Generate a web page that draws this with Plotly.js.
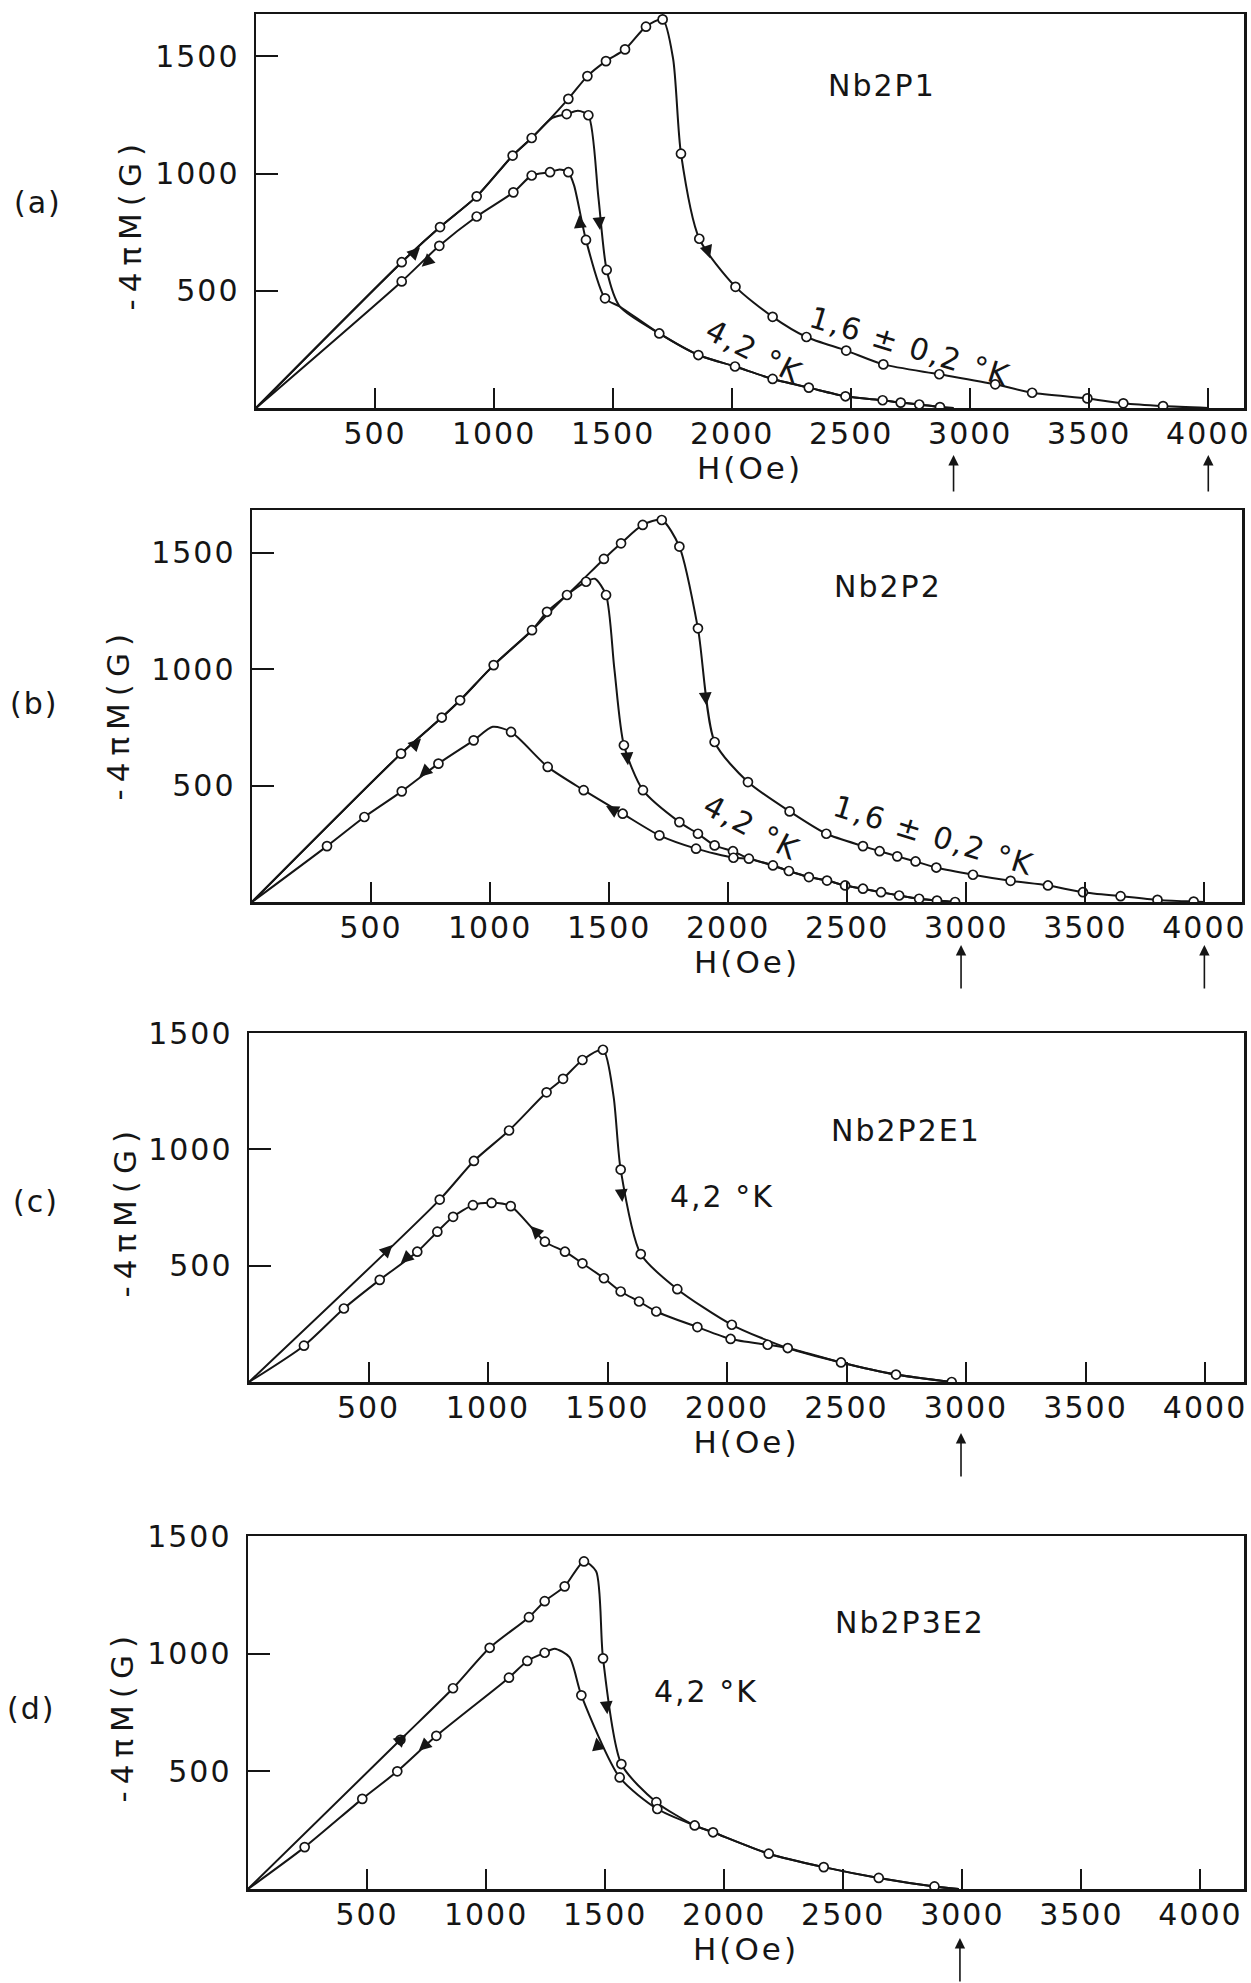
<!DOCTYPE html>
<html><head><meta charset="utf-8">
<script src="https://cdn.plot.ly/plotly-3.0.1.min.js"></script>
<style>
html,body{margin:0;padding:0;background:#fff;}
#chart{width:1251px;height:1983px;}
g[class*="tick"] text{letter-spacing:2px;}
text.annotation-text{letter-spacing:2px;}
g.annotation[data-index="0"] text.annotation-text,
g.annotation[data-index="1"] text.annotation-text,
g.annotation[data-index="2"] text.annotation-text,
g.annotation[data-index="3"] text.annotation-text{letter-spacing:7px;}
text.xtitle,text.x2title,text.x3title,text.x4title{letter-spacing:3px;}
</style></head><body><div id="chart"></div><script>
// ---------- DATA (H in Oe, -4piM in G) ----------
const xTickVals = [500, 1000, 1500, 2000, 2500, 3000, 3500, 4000];
const yTickVals = [500, 1000, 1500];
const panelLetters = ['(a)', '(b)', '(c)', '(d)'];
const sampleNames = ['Nb2P1', 'Nb2P2', 'Nb2P2E1', 'Nb2P3E2'];
const tempLow = '1,6 ± 0,2 °K';
const tempHigh = '4,2 °K';
const xTitle = 'H(Oe)';
const yTitle = '-4πM(G)';

// Panel (a) Nb2P1
const a16_H = [0, 612, 773, 927, 1078, 1158, 1312, 1392, 1470, 1550, 1638, 1708, 1752, 1785, 1862, 2014, 2170, 2312, 2479, 2635, 2870, 3105, 3260, 3492, 3643, 3810, 4000];
const a16_M = [0, 622, 772, 903, 1077, 1152, 1319, 1416, 1480, 1530, 1627, 1658, 1490, 1085, 722, 517, 389, 303, 245, 186, 144, 101, 65, 41, 20, 8, 0];
const a16_mk = [0, 1,1,1,1,1,1,1,1,1,1,1, 0, 1,1,1,1,1,1,1,1,1,1,1,1,1, 0];
const a42u_H = [0, 612, 773, 927, 1078, 1158, 1245, 1305, 1352, 1396, 1438, 1473, 1529, 1694, 1858, 2012, 2170, 2322, 2476, 2632, 2708, 2786, 2873, 2930];
const a42u_M = [0, 622, 772, 903, 1077, 1152, 1238, 1254, 1268, 1249, 901, 589, 432, 318, 226, 177, 124, 87, 50, 33, 23, 15, 4, 0];
const a42u_mk = [0, 0,0,0,0,0, 0, 1, 0, 1, 0, 1, 0, 1,1,1,1,1,1,1,1,1,1, 0];
const a42d_H = [2930, 2873, 2786, 2708, 2632, 2476, 2322, 2170, 2012, 1858, 1694, 1529, 1466, 1386, 1336, 1312, 1275, 1235, 1158, 1081, 927, 770, 612, 0];
const a42d_M = [0, 4, 15, 23, 33, 50, 87, 124, 177, 226, 318, 432, 468, 717, 950, 1006, 1018, 1006, 992, 920, 817, 692, 540, 0];
const a42d_mk = [0, 0,0,0,0,0,0,0,0,0,0, 0, 1, 1, 0, 1, 0, 1, 1, 1, 1, 1, 1, 0];
const a_dirH = [689, 696, 1445, 1358, 1907];
const a_dirM = [686, 603, 759, 823, 639];
const a_limitH = [2930, 4000];

// Panel (b) Nb2P2
const b16_H = [0, 626, 797, 874, 1015, 1176, 1239, 1323, 1478, 1550, 1641, 1721, 1795, 1873, 1943, 2083, 2258, 2412, 2566, 2636, 2710, 2787, 2874, 3028, 3186, 3343, 3490, 3648, 3803, 3955, 4000];
const b16_M = [0, 637, 792, 866, 1017, 1167, 1246, 1318, 1473, 1540, 1619, 1640, 1526, 1175, 687, 515, 389, 293, 240, 218, 196, 174, 148, 117, 91, 71, 42, 25, 9, 2, 0];
const b16_mk = [0, 1,1,1,1,1,1,1,1,1,1,1,1,1,1,1,1,1,1,1,1,1,1,1,1,1,1,1,1,1, 0];
const b42u_H = [0, 626, 797, 874, 1015, 1176, 1323, 1403, 1440, 1487, 1522, 1562, 1642, 1795, 1873, 1943, 2020, 2087, 2188, 2255, 2339, 2415, 2491, 2566, 2642, 2718, 2802, 2877, 2953];
const b42u_M = [0, 637, 792, 866, 1017, 1167, 1318, 1375, 1388, 1318, 1000, 673, 480, 343, 293, 243, 218, 186, 157, 133, 107, 92, 71, 57, 42, 28, 14, 6, 0];
const b42u_mk = [0,0,0,0,0,0,0, 1, 0, 1, 0, 1,1,1,1,1,1,1,1,1,1,1,1,1,1,1,1,1, 1];
const b42d_H = [2953, 2877, 2802, 2718, 2642, 2566, 2491, 2415, 2339, 2255, 2188, 2087, 2022, 1865, 1711, 1557, 1393, 1242, 1088, 1011, 931, 783, 629, 472, 315, 0];
const b42d_M = [0, 6, 14, 28, 42, 57, 71, 92, 107, 133, 157, 186, 190, 229, 286, 379, 480, 580, 730, 752, 694, 594, 475, 365, 240, 0];
const b42d_mk = [0,0,0,0,0,0,0,0,0,0,0,0, 1,1,1,1,1,1,1, 0, 1,1,1,1,1, 0];
const b_dirH = [710, 703, 1908, 1579, 1487];
const b_dirM = [702, 537, 845, 587, 412];
const b_limitH = [2978, 4000];

// Panel (c) Nb2P2E1
const c42u_H = [0, 798, 941, 1088, 1245, 1314, 1395, 1481, 1525, 1555, 1639, 1792, 2020, 2254, 2477, 2707, 2940];
const c42u_M = [0, 784, 950, 1081, 1245, 1303, 1384, 1428, 1230, 913, 550, 399, 246, 146, 84, 32, 0];
const c42u_mk = [0, 1,1,1,1,1,1,1, 0, 1,1,1,1,1,1,1,1];
const c42d_H = [2940, 2707, 2477, 2254, 2170, 2015, 1876, 1704, 1632, 1555, 1485, 1395, 1322, 1238, 1095, 1015, 937, 854, 788, 704, 547, 397, 230, 0];
const c42d_M = [0, 32, 84, 146, 160, 185, 236, 303, 346, 389, 446, 510, 560, 603, 756, 770, 760, 710, 646, 560, 439, 316, 156, 0];
const c42d_mk = [0,0,0,0, 1,1,1,1,1,1,1,1,1,1,1,1,1,1,1,1,1,1,1, 0];
const c_dirH = [600, 635, 1562, 1178];
const c_dirM = [589, 510, 774, 670];
const c_limitH = [2979];

// Panel (d) Nb2P3E2
const d42u_H = [0, 640, 861, 1015, 1180, 1246, 1330, 1411, 1462, 1491, 1568, 1715, 1876, 1953, 2187, 2418, 2649, 2883, 2985];
const d42u_M = [0, 634, 853, 1025, 1155, 1223, 1286, 1392, 1350, 980, 531, 369, 270, 241, 150, 93, 47, 11, 0];
const d42u_mk = [0, 1, 1,1,1,1,1,1, 0, 1,1,1,1,1,1,1,1,1, 0];
const d42d_H = [2985, 2883, 2649, 2418, 2187, 1953, 1876, 1719, 1561, 1400, 1350, 1288, 1246, 1173, 1096, 791, 627, 480, 238, 0];
const d42d_M = [0, 11, 47, 93, 150, 241, 270, 340, 474, 823, 985, 1021, 1004, 969, 898, 651, 500, 383, 178, 0];
const d42d_mk = [0,0,0,0,0,0,0, 1,1,1, 0,0, 1,1,1,1,1,1,1, 0];
const d_dirH = [665, 717, 1509, 1463];
const d_dirM = [658, 587, 743, 644];
const d_limitH = [2990];

// ---------- LAYOUT CONFIG ----------
const W = 1251, HT = 1983;
const FONT = 'DejaVu Sans, Liberation Sans, Arial, sans-serif';
const INK = '#151515';
const panels = [
  {l:256, r:1244, t:14,   b:408,  xr:[0,4150], yr:[0,1681], yt:[130,224],  lab:[38,202],  name:[882,86],   hi:[754,352,27], lo:[910,347,17], lim:[455,493]},
  {l:252, r:1242, t:510,  b:902,  xr:[0,4158], yr:[0,1683], yt:[118,714],  lab:[34,703],  name:[888,586],  hi:[752,827,28], lo:[934,835,17], lim:[945,990]},
  {l:249, r:1244, t:1033, b:1382, xr:[0,4163], yr:[0,1500], yt:[125,1211], lab:[36,1201], name:[906,1130], hi:[722,1196,0], lo:null, lim:[1433,1478]},
  {l:248, r:1244, t:1536, b:1889, xr:[0,4183], yr:[0,1500], yt:[122,1716], lab:[31,1708], name:[910,1622], hi:[706,1691,0], lo:null, lim:[1938,1983]}
];
const curves = [
  {p:0, H:a16_H, M:a16_M, mk:a16_mk}, {p:0, H:a42u_H, M:a42u_M, mk:a42u_mk}, {p:0, H:a42d_H, M:a42d_M, mk:a42d_mk},
  {p:1, H:b16_H, M:b16_M, mk:b16_mk}, {p:1, H:b42u_H, M:b42u_M, mk:b42u_mk}, {p:1, H:b42d_H, M:b42d_M, mk:b42d_mk},
  {p:2, H:c42u_H, M:c42u_M, mk:c42u_mk}, {p:2, H:c42d_H, M:c42d_M, mk:c42d_mk},
  {p:3, H:d42u_H, M:d42u_M, mk:d42u_mk}, {p:3, H:d42d_H, M:d42d_M, mk:d42d_mk}
];
// direction arrows on curves: head (H,M) from data, tail offset in px
const dirSets = [
  {p:0, H:a_dirH, M:a_dirM, off:[[-10,10],[10,-9],[-1,-12],[1,12],[-4,-12]]},
  {p:1, H:b_dirH, M:b_dirM, off:[[-10,10],[10,-9],[-1,-12],[-1,-12],[11,6]]},
  {p:2, H:c_dirH, M:c_dirM, off:[[-10,10],[10,-9],[-1,-12],[9,9]]},
  {p:3, H:d_dirH, M:d_dirM, off:[[-10,10],[10,-9],[-1,-12],[2,12]]}
];
const limitSets = [a_limitH, b_limitH, c_limitH, d_limitH];

const sfx = i => (i === 0 ? '' : String(i + 1));
const data = [];
curves.forEach(c => {
  data.push({x:c.H, y:c.M, xaxis:'x'+sfx(c.p), yaxis:'y'+sfx(c.p), mode:'lines',
    line:{color:INK, width:2, shape:'spline', smoothing:0.7}, hoverinfo:'skip', showlegend:false});
});
curves.forEach(c => {
  const xs = [], ys = [];
  c.H.forEach((h, k) => { if (c.mk[k]) { xs.push(h); ys.push(c.M[k]); } });
  data.push({x:xs, y:ys, xaxis:'x'+sfx(c.p), yaxis:'y'+sfx(c.p), mode:'markers',
    marker:{symbol:'circle', size:9, color:'#fff', line:{color:INK, width:1.7}}, hoverinfo:'skip', showlegend:false});
});

const layout = {width:W, height:HT, margin:{l:0, r:0, t:0, b:0}, paper_bgcolor:'#fff', plot_bgcolor:'#fff',
  showlegend:false, annotations:[], font:{family:FONT, color:INK}};
const tf = (s) => ({family:FONT, size:s, color:INK});
const A = layout.annotations;
// y-axis titles first (annotation indices 0..3, letter-spaced via CSS)
panels.forEach(p => {
  A.push({xref:'paper', yref:'paper', x:p.yt[0]/W, y:1-p.yt[1]/HT, text:yTitle, textangle:-90, showarrow:false,
    font:tf(31), xanchor:'center', yanchor:'middle'});
});
panels.forEach((p, i) => {
  const s = sfx(i);
  layout['xaxis'+s] = {domain:[p.l/W, p.r/W], range:p.xr, anchor:'y'+s, tickmode:'array', tickvals:xTickVals,
    ticks:'inside', ticklen:20, tickwidth:2, tickcolor:INK, showline:true, mirror:true, linewidth:2.5, linecolor:INK,
    showgrid:false, zeroline:false, tickfont:tf(30), ticklabelstandoff:-3, fixedrange:true,
    title:{text:xTitle, font:tf(31), standoff:6}};
  layout['yaxis'+s] = {domain:[1-p.b/HT, 1-p.t/HT], range:p.yr, anchor:'x'+s, tickmode:'array', tickvals:yTickVals,
    ticks:'inside', ticklen:22, tickwidth:2, tickcolor:INK, showline:true, mirror:true, linewidth:2.5, linecolor:INK,
    showgrid:false, zeroline:false, tickfont:tf(30), ticklabelstandoff:8, fixedrange:true};
  A.push({xref:'paper', yref:'paper', x:p.lab[0]/W, y:1-p.lab[1]/HT, text:panelLetters[i], showarrow:false, font:tf(30), xanchor:'center', yanchor:'middle'});
  A.push({xref:'paper', yref:'paper', x:p.name[0]/W, y:1-p.name[1]/HT, text:sampleNames[i], showarrow:false, font:tf(30), xanchor:'center', yanchor:'middle'});
  A.push({xref:'paper', yref:'paper', x:p.hi[0]/W, y:1-p.hi[1]/HT, text:tempHigh, textangle:p.hi[2], showarrow:false, font:tf(30), xanchor:'center', yanchor:'middle'});
  if (p.lo) A.push({xref:'paper', yref:'paper', x:p.lo[0]/W, y:1-p.lo[1]/HT, text:tempLow, textangle:p.lo[2], showarrow:false, font:tf(30), xanchor:'center', yanchor:'middle'});
  limitSets[i].forEach(h => {
    A.push({xref:'x'+s, yref:'paper', x:h, y:1-p.lim[0]/HT, ax:0, ay:p.lim[1]-p.lim[0], text:'', showarrow:true,
      arrowhead:2, arrowsize:1.3, arrowwidth:1.6, arrowcolor:INK});
  });
});
dirSets.forEach(d => {
  const s = sfx(d.p);
  d.H.forEach((h, k) => {
    A.push({xref:'x'+s, yref:'y'+s, x:h, y:d.M[k], ax:d.off[k][0], ay:d.off[k][1], text:'', showarrow:true,
      arrowhead:2, arrowsize:1.6, arrowwidth:1.6, arrowcolor:INK, standoff:0});
  });
});
Plotly.newPlot('chart', data, layout, {staticPlot:true, displayModeBar:false});
</script></body></html>
